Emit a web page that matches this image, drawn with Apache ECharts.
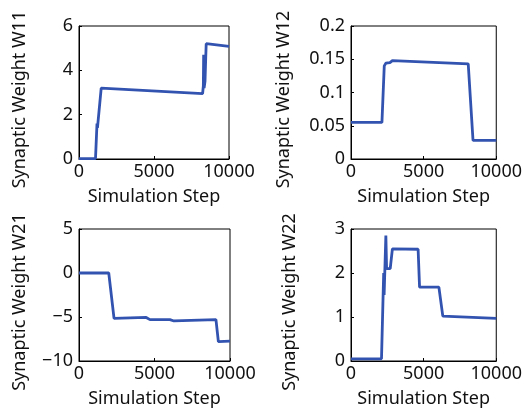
<!DOCTYPE html>
<html><head><meta charset="utf-8">
<script src="https://cdn.jsdelivr.net/npm/echarts@6/dist/echarts.min.js"></script>
<style>html,body{margin:0;padding:0;background:#fff}#c{width:525px;height:411px}</style>
</head><body><div id="c"></div>
<script>
var xTicks = [0, 5000, 10000];
var w11 = [[0,0.02],[1100,0.02],[1200,1.6],[1230,1.4],[1480,3.2],[8240,2.95],[8290,3.3],[8310,4.7],[8340,3.2],[8400,3.5],[8450,4.6],[8480,5.2],[10000,5.08]];
var w12 = [[0,0.055],[2130,0.055],[2290,0.14],[2400,0.144],[2680,0.145],[2850,0.148],[8070,0.143],[8400,0.028],[10000,0.028]];
var w21 = [[0,0],[1970,0],[2320,-5.15],[4450,-5.05],[4550,-5.0],[4700,-5.3],[6020,-5.3],[6290,-5.45],[9070,-5.3],[9230,-7.8],[10000,-7.75]];
var w22 = [[0,0.05],[2100,0.05],[2250,2.0],[2280,1.5],[2400,2.85],[2450,2.1],[2700,2.1],[2850,2.55],[2950,2.58],[4620,2.54],[4720,1.68],[6050,1.68],[6320,1.02],[10000,0.97]];
var yNames = ['Synaptic Weight W11','Synaptic Weight W12','Synaptic Weight W21','Synaptic Weight W22'];
var yRanges = [[0,6,2],[0,0.2,0.05],[-10,5,5],[0,3,1]];
var series = [w11, w12, w21, w22];

var FONT = 'Noto Sans';
var FS = 18;
var grids = [
  {left:79, top:26, width:150, height:133},
  {left:351, top:26, width:150, height:133},
  {left:79, top:229, width:151, height:132},
  {left:351, top:229, width:150, height:132}
];
var nameGaps = [50, 58, 50, 52];
var option = {
  backgroundColor:'#fff',
  animation:false,
  grid: grids.map(function(g){ return Object.assign({show:true, borderColor:'#000', borderWidth:1, containLabel:false}, g); }),
  xAxis: grids.map(function(g,i){ return {
    gridIndex:i, type:'value', min:xTicks[0], max:xTicks[2], interval:xTicks[1]-xTicks[0],
    name:'Simulation Step', nameLocation:'middle', nameGap:29,
    nameTextStyle:{fontFamily:FONT, fontSize:FS, color:'#111'},
    axisLine:{onZero:false, lineStyle:{color:'#000', width:1}},
    axisTick:{inside:true, length:3, lineStyle:{color:'#000'}},
    axisLabel:{fontFamily:FONT, fontSize:FS, color:'#111', margin:4, showMinLabel:true, showMaxLabel:true,
      formatter:function(v){ return String(v); }},
    splitLine:{show:false}
  };}),
  yAxis: grids.map(function(g,i){ var r=yRanges[i]; return {
    gridIndex:i, type:'value', min:r[0], max:r[1], interval:r[2],
    name:yNames[i], nameLocation:'middle', nameGap:nameGaps[i], nameRotate:90,
    nameTextStyle:{fontFamily:FONT, fontSize:FS, color:'#111', padding:[0,14,0,0]},
    axisLine:{onZero:false, lineStyle:{color:'#000', width:1}},
    axisTick:{inside:true, length:3, lineStyle:{color:'#000'}},
    axisLabel:{fontFamily:FONT, fontSize:FS, color:'#111', margin:6,
      formatter:function(v){ var s=String(Math.round(v*1000)/1000); return s.replace('-', '\u2212'); }},
    splitLine:{show:false}
  };}),
  series: series.map(function(d,i){ return {
    type:'line', xAxisIndex:i, yAxisIndex:i, data:d, showSymbol:false,
    lineStyle:{color:'#3353b0', width:2.8}, itemStyle:{color:'#3353b0'}
  };})
};
echarts.init(document.getElementById('c')).setOption(option);
</script></body></html>
